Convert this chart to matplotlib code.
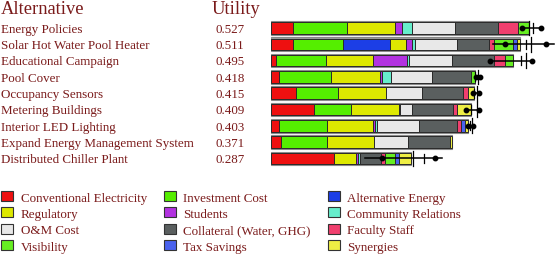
"""Stacked utility bars per alternative, with whiskers and criteria legend."""
import matplotlib
matplotlib.use("Agg")
import matplotlib.pyplot as plt
import matplotlib.transforms as mtransforms
from matplotlib.patches import Patch
import numpy as np

plt.rcParams["font.family"] = ["Liberation Serif", "DejaVu Serif"]

TEXT_COLOR = "#7a1a1a"

alternatives = [
    "Energy Policies",
    "Solar Hot Water Pool Heater",
    "Educational Campaign",
    "Pool Cover",
    "Occupancy Sensors",
    "Metering Buildings",
    "Interior LED Lighting",
    "Expand Energy Management System",
    "Distributed Chiller Plant",
]
utility = [0.527, 0.511, 0.495, 0.418, 0.415, 0.409, 0.403, 0.371, 0.287]

criteria = [
    "Conventional Electricity", "Investment Cost", "Alternative Energy",
    "Regulatory", "Students", "Community Relations",
    "O&M Cost", "Collateral (Water, GHG)", "Faculty Staff",
    "Visibility", "Tax Savings", "Synergies",
]
colors = [
    "#ee1010", "#55ee00", "#1c3ee6",
    "#dde800", "#b232e0", "#66eecc",
    "#e8e8e8", "#5a5f5f", "#f03f6e",
    "#66ee22", "#4a62ee", "#eeee44",
]

# contribution of each criterion, one list per criterion (rows follow alternatives)
conv_elec = [0.045, 0.045, 0.010, 0.016, 0.051, 0.088, 0.016, 0.020, 0.130]
invest = [0.111, 0.102, 0.102, 0.107, 0.086, 0.076, 0.098, 0.094, 0.000]
alt_energy = [0.000, 0.096, 0.000, 0.000, 0.000, 0.000, 0.000, 0.000, 0.000]
regulatory = [0.098, 0.033, 0.096, 0.100, 0.098, 0.098, 0.096, 0.098, 0.045]
students = [0.014, 0.012, 0.070, 0.004, 0.000, 0.003, 0.004, 0.000, 0.004]
community = [0.020, 0.008, 0.005, 0.018, 0.000, 0.000, 0.003, 0.000, 0.004]
om_cost = [0.090, 0.086, 0.088, 0.084, 0.074, 0.023, 0.086, 0.068, 0.000]
collateral = [0.088, 0.064, 0.085, 0.080, 0.084, 0.084, 0.078, 0.086, 0.043]
faculty = [0.041, 0.010, 0.023, 0.000, 0.010, 0.010, 0.009, 0.000, 0.008]
visibility = [0.022, 0.039, 0.016, 0.009, 0.000, 0.000, 0.000, 0.000, 0.020]
tax = [0.000, 0.010, 0.000, 0.000, 0.000, 0.000, 0.008, 0.000, 0.008]
synergies = [0.000, 0.006, 0.000, 0.000, 0.012, 0.027, 0.005, 0.005, 0.025]

# whisker: line ends, dots, tall tick, short tick
wh_lo = [0.514, 0.455, 0.449, 0.420, 0.414, 0.400, 0.404, np.nan, 0.193]
wh_hi = [0.553, 0.580, 0.535, 0.428, 0.426, 0.426, 0.414, np.nan, 0.350]
dot_lo = [0.514, 0.480, 0.449, 0.420, 0.414, 0.400, 0.404, np.nan, 0.227]
dot_hi = [0.553, 0.564, 0.535, 0.428, 0.426, 0.426, 0.414, np.nan, 0.336]
tick_a = [0.529, 0.533, 0.523, 0.424, 0.422, 0.422, 0.412, np.nan, 0.291]
tick_b = [0.537, 0.522, 0.512, 0.418, 0.416, 0.409, 0.408, np.nan, 0.314]

segments = [conv_elec, invest, alt_energy, regulatory, students, community,
            om_cost, collateral, faculty, visibility, tax, synergies]

W, H = 555, 255
fig = plt.figure(figsize=(W / 100, H / 100), dpi=100)

# bar axes: value 0 at x=271px, 488 px per unit; rows 16.3px apart from y=29px
x0, ppu = 271, 488
row0, rowstep = 29, 16.3
ax = fig.add_axes([x0 / W, 0, 1 - x0 / W, 1])
ax.set_xlim(0, (W - x0) / ppu)
ax.set_ylim((H - row0) / rowstep, -row0 / rowstep)
ax.axis("off")

y = np.arange(len(alternatives))
ax.barh(y, utility, height=0.84, left=0, facecolor="#9a9a9a",
        edgecolor="#8a8a8a", linewidth=0.8, zorder=1)
left = np.zeros(len(alternatives))
for vals, c in zip(segments, colors):
    vals = np.array(vals)
    m = vals > 0
    ax.barh(y[m], vals[m], left=left[m], height=0.70, color=c,
            edgecolor="#2a2a2a", linewidth=0.7, zorder=2)
    left += vals

# whiskers
for i in range(len(alternatives)):
    if np.isnan(wh_lo[i]):
        continue
    ax.plot([wh_lo[i], wh_hi[i]], [i, i], color="black", lw=1.1, zorder=4)
    ax.plot([dot_lo[i], dot_hi[i]], [i, i], "o", color="black", ms=3.2, zorder=5)
    ax.plot([tick_a[i], tick_a[i]], [i - 0.45, i + 0.45], color="black", lw=0.9, zorder=5)
    ax.plot([tick_b[i], tick_b[i]], [i - 0.28, i + 0.28], color="black", lw=0.9, zorder=5)

# labels column
trans = mtransforms.blended_transform_factory(fig.transFigure, ax.transData)
ax.text(1 / W, -1.18, "Alternative", transform=trans, fontsize=13.3,
        color=TEXT_COLOR, ha="left", va="center", clip_on=False)
ax.text(212 / W, -1.18, "Utility", transform=trans, fontsize=13.3,
        color=TEXT_COLOR, ha="left", va="center", clip_on=False)
for i, (name, u) in enumerate(zip(alternatives, utility)):
    ax.text(1 / W, i + 0.05, name, transform=trans, fontsize=9.4,
            color=TEXT_COLOR, ha="left", va="center", clip_on=False)
    ax.text(215 / W, i + 0.05, f"{u:.3f}", transform=trans, fontsize=9.4,
            color=TEXT_COLOR, ha="left", va="center", clip_on=False)

# legend, row-wise order in 3 columns
handles = [Patch(facecolor=c, edgecolor="#333333", linewidth=0.8) for c in colors]
order = [0, 3, 6, 9, 1, 4, 7, 10, 2, 5, 8, 11]
leg = fig.legend([handles[k] for k in order], [criteria[k] for k in order],
                 ncol=3, loc="upper left", bbox_to_anchor=(1 / W, (H - 192) / H),
                 frameon=False, fontsize=9.4, borderpad=0, borderaxespad=0,
                 handlelength=0.95, handleheight=0.8, handletextpad=0.55,
                 columnspacing=1.3, labelspacing=0.30)
for t in leg.get_texts():
    t.set_color(TEXT_COLOR)

fig.savefig("out.png", dpi=100)
